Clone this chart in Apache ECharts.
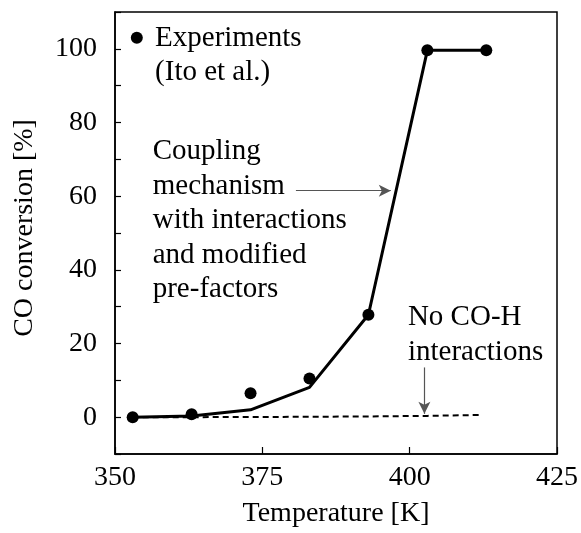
<!DOCTYPE html>
<html style="height: 100%">
<head>
<meta charset="utf-8">
<title>CO conversion</title>
<style>
  body { margin: 0; background: #fff; }
  #container { width: 581px; height: 533px; }
</style>
</head>
<body>
<div id="container"></div>
<script src="https://cdn.jsdelivr.net/npm/echarts@6/dist/echarts.min.js"></script>
<script>
// measured values
var expT    = [353, 363, 373, 383, 393, 403, 413];
var expConv = [0, 0.8, 6.5, 10.5, 27.8, 99.6, 99.6];
var modelT    = [353, 363, 373, 383, 393, 403, 413];
var modelConv = [0, 0.3, 2, 8.1, 27.8, 99.6, 99.6];
var noIntT    = [353, 363, 373, 383, 393, 403, 412];
var noIntConv = [0, 0, 0.05, 0.1, 0.2, 0.35, 0.6];
var xTicks = [350, 375, 400, 425];
var yTicks = [0, 20, 40, 60, 80, 100];

var FONT = 'Liberation Serif, Times New Roman, serif';
var FS = 28;   // axis text
var FA = 29;   // annotations

function pairs(xs, ys) {
  var out = [];
  for (var i = 0; i < xs.length; i++) out.push([xs[i], ys[i]]);
  return out;
}

var dom = document.getElementById('container');
var myChart = echarts.init(dom, null, { renderer: 'canvas' });

var arrowStyle = { type: 'solid', color: '#555', width: 1.2 };

var option = {
  animation: false,
  backgroundColor: '#fff',
  grid: { left: 115, right: 22, top: 12, bottom: 78, show: true, borderColor: '#000', borderWidth: 1.5 },
  xAxis: {
    type: 'value', min: 350, max: 425, interval: 25,
    name: 'Temperature [K]', nameLocation: 'middle', nameGap: 46,
    nameTextStyle: { fontFamily: FONT, fontSize: FS, color: '#000' },
    axisLine: { onZero: false, lineStyle: { color: '#000', width: 1.5 } },
    axisTick: { inside: true, length: 7, lineStyle: { color: '#000', width: 1.2 } },
    axisLabel: {
      margin: 10, fontFamily: FONT, fontSize: FS, color: '#000',
      formatter: function (v) { return xTicks.indexOf(v) >= 0 ? String(v) : ''; }
    },
    splitLine: { show: false }
  },
  yAxis: {
    type: 'value', min: -10, max: 110, interval: 10,
    name: 'CO conversion [%]', nameLocation: 'middle', nameGap: 76,
    nameTextStyle: { fontFamily: FONT, fontSize: FS, color: '#000', padding: [0, 0, 0, 10] },
    axisLine: { onZero: false, lineStyle: { color: '#000', width: 1.5 } },
    axisTick: { inside: true, length: 6, lineStyle: { color: '#000', width: 1.2 } },
    axisLabel: {
      margin: 18, fontFamily: FONT, fontSize: FS, color: '#000',
      formatter: function (v) { return yTicks.indexOf(v) >= 0 ? String(v) : ''; }
    },
    splitLine: { show: false }
  },
  series: [
    {
      type: 'line', data: pairs(noIntT, noIntConv), showSymbol: false,
      lineStyle: { color: '#000', width: 2, type: [6, 4] }, z: 2,
      markLine: {
        silent: true, symbol: ['none', 'arrow'], symbolSize: [9, 12],
        label: { show: false }, lineStyle: arrowStyle,
        data: [
          [{ coord: [380.7, 61.5] }, { coord: [396.8, 61.5] }],
          [{ coord: [402.5, 13.5] }, { coord: [402.5, 0.9] }]
        ]
      }
    },
    {
      type: 'line', data: pairs(modelT, modelConv), showSymbol: false,
      lineStyle: { color: '#000', width: 3 }, z: 3
    },
    {
      type: 'scatter', data: pairs(expT, expConv), symbolSize: 12,
      itemStyle: { color: '#000', opacity: 1 }, z: 4
    }
  ]
};
myChart.setOption(option);

function px(x, y) { return myChart.convertToPixel({ gridIndex: 0 }, [x, y]); }

function textBlock(x, y, lines) {
  var p = px(x, y);
  return {
    type: 'text', x: p[0], y: p[1], z: 10,
    style: {
      text: lines.join('\n'), fill: '#000', font: FA + 'px ' + FONT,
      lineHeight: 34.5, textAlign: 'left', textVerticalAlign: 'middle'
    }
  };
}

var dot = px(353.7, 103);
myChart.setOption({
  graphic: [
    { type: 'circle', shape: { cx: dot[0], cy: dot[1], r: 6 }, style: { fill: '#000' }, z: 10 },
    textBlock(356.8, 98.2, ['Experiments', '(Ito et al.)']),
    textBlock(356.4, 53.4, ['Coupling', 'mechanism', 'with interactions', 'and modified', 'pre-factors']),
    textBlock(399.7, 22.4, ['No CO-H', 'interactions'])
  ]
});
</script>
</body>
</html>
